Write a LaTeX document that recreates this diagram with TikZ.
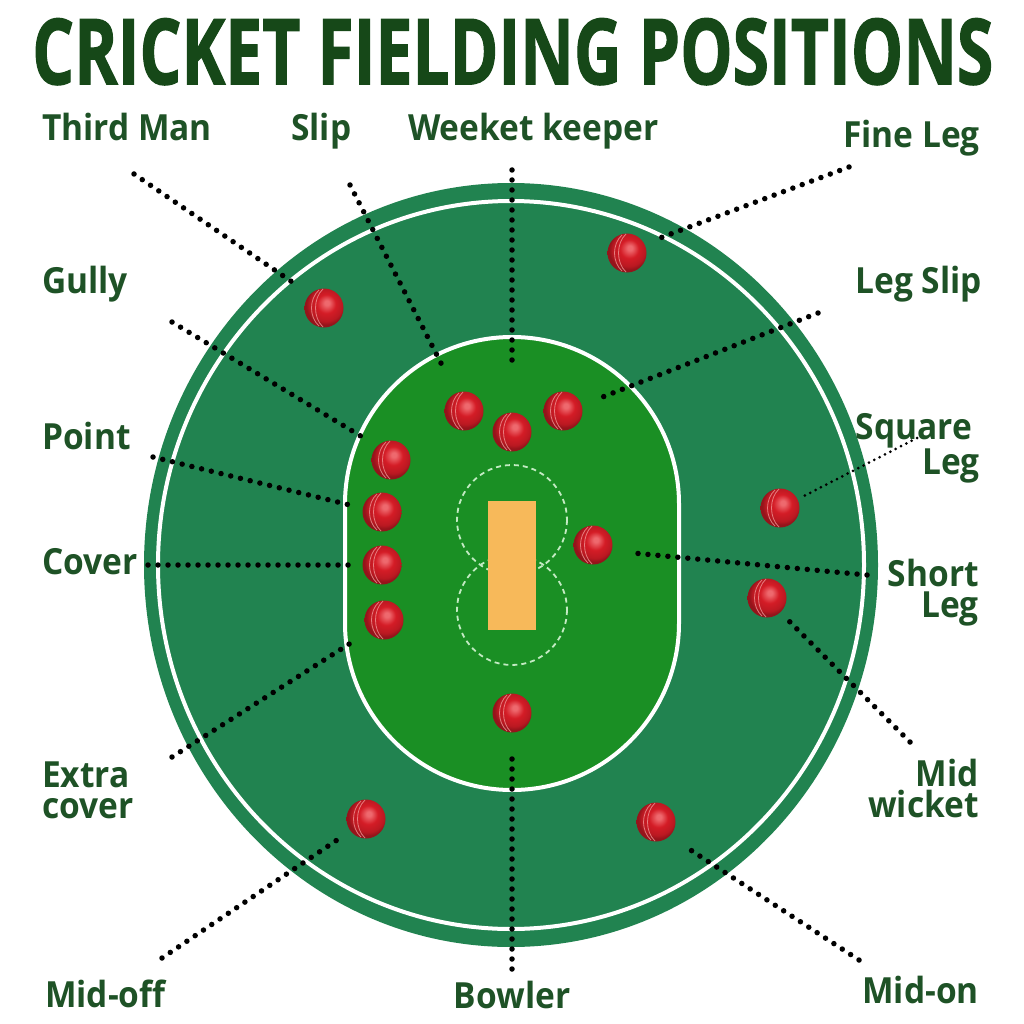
\documentclass[tikz,border=0pt]{standalone}
\usepackage{graphicx}
\usepackage{fontspec}
\setmainfont{Open Sans}[FakeStretch=0.93]
\newfontfamily\titlefont{Open Sans}[BoldFeatures={FakeBold=1.5}]
\usetikzlibrary{calc}
\definecolor{outergreen}{RGB}{33,131,80}
\definecolor{innergreen}{RGB}{26,143,36}
\definecolor{pitchc}{RGB}{247,185,90}
\definecolor{titlegreen}{RGB}{22,72,24}
\definecolor{labgreen}{RGB}{30,82,38}
\definecolor{dashc}{RGB}{195,235,195}
\definecolor{ballred}{RGB}{212,28,38}
\definecolor{ballhl}{RGB}{238,105,110}
\definecolor{seamc}{RGB}{240,150,150}
\pgfdeclareradialshading{cball}{\pgfqpoint{4bp}{7bp}}{%
  color(0bp)=(ballhl); color(3bp)=(ballhl); color(12bp)=(ballred);
  color(21bp)=(ballred!88!black); color(25bp)=(ballred!70!black); color(50bp)=(ballred!70!black)}
\tikzset{
  lab/.style={font=\bfseries\fontsize{36}{31}\selectfont, text=labgreen, inner sep=0pt},
  dots/.style={line width=5.5pt, line cap=round, dash pattern=on 0pt off 10pt, black},
  finedots/.style={line width=3pt, line cap=round, dash pattern=on 0pt off 6pt, black},
  seam/.style={line width=0.8pt, seamc, opacity=0.8},
  ball/.style={circle, minimum size=39pt, inner sep=0pt, shading=cball,
    path picture={
      \draw[seam] ($(path picture bounding box.center)+(-5,-18)$) .. controls +(-10,9) and +(-10,-9) .. ($(path picture bounding box.center)+(-5,18)$);
      \draw[seam] ($(path picture bounding box.center)+(-1,-19)$) .. controls +(-10,9) and +(-10,-9) .. ($(path picture bounding box.center)+(-1,19)$);
    }},
}
\begin{document}
\begin{tikzpicture}[x=1pt,y=-1pt]
\useasboundingbox (0,0) rectangle (1024,1024);
\fill[white] (0,0) rectangle (1024,1024);
% field
\fill[outergreen] (511,565) ellipse [x radius=367, y radius=382];
\draw[white, line width=4pt] (511,565) ellipse [x radius=353, y radius=364];
\filldraw[fill=innergreen, draw=white, line width=4pt]
  (345,504) arc[start angle=180, end angle=360, radius=167]
  -- (679,623) arc[start angle=0, end angle=180, radius=167] -- cycle;
\draw[dashc, line width=1.8pt, dash pattern=on 5pt off 4pt] (512,520) circle[radius=55];
\draw[dashc, line width=1.8pt, dash pattern=on 5pt off 4pt] (512,610) circle[radius=55];
\fill[pitchc] (488,501) rectangle (536,630);
% title
\node[anchor=north west, inner sep=0pt, text=titlegreen] (title) at (32,18)
  {\resizebox{961pt}{66pt}{\titlefont\bfseries CRICKET FIELDING POSITIONS}};
% labels
\node[lab, anchor=base west] (lthird) at (42,141) {Third Man};
\node[lab, anchor=base west] (lslip) at (291,141) {Slip};
\node[lab, anchor=base west] (lkeep) at (408,141) {Weeket keeper};
\node[lab, anchor=base east] (lfine) at (980,148) {Fine Leg};
\node[lab, anchor=base west] (lgully) at (42,293) {Gully};
\node[lab, anchor=base east] (llegslip) at (982,293) {Leg Slip};
\node[lab, anchor=base west] (lpoint) at (42,449) {Point};
\node[lab, anchor=base west] (lcover) at (42,574) {Cover};
\node[lab, align=right, anchor=north east] (lsquare) at (980,413) {Square\hspace*{8pt}\\Leg};
\node[lab, align=right, anchor=north east] (lshort) at (979,559) {Short\\Leg};
\node[lab, align=left, anchor=north west] (lextra) at (42,762) {Extra\\cover};
\node[lab, align=right, anchor=north east] (lmidwkt) at (979,759) {Mid\\wicket};
\node[lab, anchor=base west] (lmidoff) at (45,1007) {Mid-off};
\node[lab, anchor=base] (lbowler) at (512,1008) {Bowler};
\node[lab, anchor=base east] (lmidon) at (979,1003) {Mid-on};
% connector ends
\coordinate (cthird) at (134,174);   \coordinate (pthird) at (298,286);
\coordinate (cslip) at (350,185);    \coordinate (pslip) at (444,369);
\coordinate (ckeep) at (512,170);    \coordinate (pkeep) at (512,368);
\coordinate (cfine) at (849,167);    \coordinate (pfine) at (660,238);
\coordinate (cgully) at (172,322);   \coordinate (pgully) at (364,438);
\coordinate (clegslip) at (818,313); \coordinate (plegslip) at (600,398);
\coordinate (cpoint) at (153,457);   \coordinate (ppoint) at (354,506);
\coordinate (ccover) at (148,565);   \coordinate (pcover) at (355,565);
\coordinate (cextra) at (172,757);   \coordinate (pextra) at (357,639);
\coordinate (csquare) at (917,438);  \coordinate (psquare) at (802,497);
\coordinate (cshort) at (867,575);   \coordinate (pshort) at (633,553);
\coordinate (cmidwkt) at (910,742);  \coordinate (pmidwkt) at (788,620);
\coordinate (cbowler) at (512,969);  \coordinate (pbowler) at (512,758);
\coordinate (cmidoff) at (162,958);  \coordinate (pmidoff) at (340,838);
\coordinate (cmidon) at (859,960);   \coordinate (pmidon) at (686,847);
\draw[dots] (cthird) -- (pthird);
\draw[dots] (cslip) -- (pslip);
\draw[dots] (ckeep) -- (pkeep);
\draw[dots] (cfine) -- (pfine);
\draw[dots] (cgully) -- (pgully);
\draw[dots] (clegslip) -- (plegslip);
\draw[dots] (cpoint) -- (ppoint);
\draw[dots] (ccover) -- (pcover);
\draw[dots] (cextra) -- (pextra);
\draw[finedots] (csquare) -- (psquare);
\draw[dots] (cshort) -- (pshort);
\draw[dots] (cmidwkt) -- (pmidwkt);
\draw[dots] (cbowler) -- (pbowler);
\draw[dots] (cmidoff) -- (pmidoff);
\draw[dots] (cmidon) -- (pmidon);
% fielders
\node[ball] (bthird) at (324,308) {};
\node[ball] (bfine) at (627,253) {};
\node[ball] (bslip) at (464,411) {};
\node[ball] (bkeep) at (512,432) {};
\node[ball] (blegslip) at (563,411) {};
\node[ball] (bgully) at (391,460) {};
\node[ball] (bpoint) at (382,512) {};
\node[ball] (bcover) at (382,565) {};
\node[ball] (bextra) at (384,620) {};
\node[ball] (bshort) at (593,545) {};
\node[ball] (bsquare) at (780,508) {};
\node[ball] (bmidwkt) at (767,598) {};
\node[ball] (bbowler) at (512,713) {};
\node[ball] (bmidoff) at (366,819) {};
\node[ball] (bmidon) at (656,822) {};
\end{tikzpicture}
\end{document}
